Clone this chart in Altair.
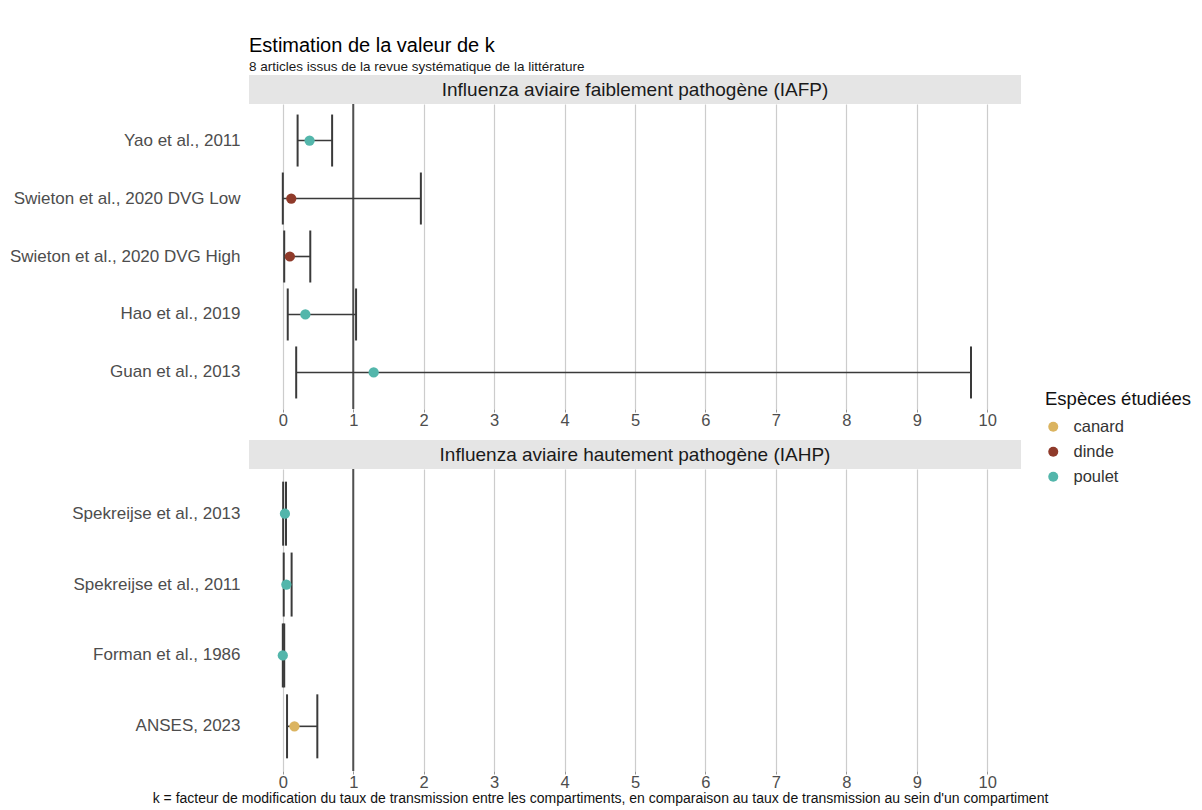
import altair as alt
import pandas as pd

# ---------------- data ----------------
etudes_iafp = ["Yao et al., 2011", "Swieton et al., 2020 DVG Low",
               "Swieton et al., 2020 DVG High", "Hao et al., 2019", "Guan et al., 2013"]
k_iafp = [0.38, 0.12, 0.10, 0.32, 1.29]
bas_iafp = [0.21, 0.00, 0.02, 0.07, 0.19]
haut_iafp = [0.70, 1.96, 0.39, 1.04, 9.77]
espece_iafp = ["poulet", "dinde", "dinde", "poulet", "poulet"]

etudes_iahp = ["Spekreijse et al., 2013", "Spekreijse et al., 2011",
               "Forman et al., 1986", "ANSES, 2023"]
k_iahp = [0.03, 0.05, 0.00, 0.165]
bas_iahp = [0.005, 0.013, 0.00, 0.06]
haut_iahp = [0.045, 0.125, 0.02, 0.49]
espece_iahp = ["poulet", "poulet", "poulet", "canard"]

panneaux = ["Influenza aviaire faiblement pathogène (IAFP)",
            "Influenza aviaire hautement pathogène (IAHP)"]
especes = ["canard", "dinde", "poulet"]
couleurs = ["#DBB460", "#8F3A2A", "#53B6AB"]
seuil_k = [1]
graduations = list(range(0, 11))

titre = "Estimation de la valeur de k"
sous_titre = "8 articles issus de la revue systématique de la littérature"
legende_titre = "Espèces étudiées"
legende_x = ("k = facteur de modification du taux de transmission entre les compartiments, "
             "en comparaison au taux de transmission au sein d'un compartiment")

FONT = "Liberation Sans"
W = 772
XDOM = [-0.48, 10.48]
ERR = "#3a3a3a"


def panel(etudes, k, bas, haut, esp, strip_title, h, cap, legend, x_title, title=None):
    df = pd.DataFrame({"etude": etudes, "k": k, "bas": bas, "haut": haut, "espece": esp})
    xsc = alt.Scale(domain=XDOM, nice=False, zero=False)
    xaxis = alt.Axis(values=graduations, grid=True, gridColor="#cccccc", gridWidth=1.2,
                     ticks=True, tickColor="#999999", tickSize=3, domain=False,
                     labelFontSize=16.5, labelColor="#4d4d4d", labelPadding=0,
                     labelFont=FONT, format="d",
                     titleFont=FONT, titleFontSize=14, titleFontWeight="normal",
                     titleColor="#111111", titleX=351, titlePadding=1)

    def X(field):
        return alt.X(field, type="quantitative", scale=xsc, axis=xaxis, title=x_title)

    yenc = alt.Y("etude:N", sort=etudes, title=None,
                 scale=alt.Scale(type="band", paddingInner=0, paddingOuter=0.13),
                 axis=alt.Axis(ticks=False, domain=False, grid=False, labelFontSize=17,
                               labelColor="#4d4d4d", labelFont=FONT, labelPadding=9,
                               labelLimit=400, minExtent=236, maxExtent=236))
    base = alt.Chart(df)
    strip_df = pd.DataFrame({"titre": [strip_title]})
    strip = alt.Chart(strip_df).mark_rect(color="#e5e5e5").encode(
        x=alt.value(0), x2=alt.value(W), y=alt.value(-29), y2=alt.value(0))
    strip_txt = alt.Chart(strip_df).mark_text(
        fontSize=19, color="#1a1a1a", font=FONT, align="center", baseline="middle").encode(
        x=alt.value(W / 2), y=alt.value(-14.5), text="titre:N")
    vline = alt.Chart(pd.DataFrame({"v": seuil_k})).mark_rule(
        color="#505050", strokeWidth=2).encode(x=X("v"))
    bars = base.mark_rule(color=ERR, strokeWidth=1.6).encode(
        x=X("bas"), x2="haut:Q", y=yenc)
    cap_lo = base.mark_tick(color=ERR, thickness=2, size=cap, opacity=1).encode(x=X("bas"), y=yenc)
    cap_hi = base.mark_tick(color=ERR, thickness=2, size=cap, opacity=1).encode(x=X("haut"), y=yenc)
    pts = base.mark_circle(size=105, opacity=1).encode(
        x=X("k"), y=yenc,
        color=alt.Color("espece:N", scale=alt.Scale(domain=especes, range=couleurs),
                        legend=legend))
    props = dict(width=W, height=h)
    if title is not None:
        props["title"] = title
    return alt.layer(strip, strip_txt, vline, bars, cap_lo, cap_hi, pts).properties(**props)


leg = alt.Legend(orient="none", legendX=796, legendY=286, title=legende_titre,
                 titleFontSize=18.5, titleFont=FONT, titleFontWeight="normal",
                 titleColor="#111111", labelFontSize=16.5, labelFont=FONT,
                 labelColor="#333333", symbolType="circle", symbolSize=100,
                 symbolStrokeWidth=0, rowPadding=8, titlePadding=10, labelOffset=12)

p1 = panel(etudes_iafp, k_iafp, bas_iafp, haut_iafp, espece_iafp, panneaux[0], 305, 52,
           leg, None,
           title=alt.TitleParams(text=titre, subtitle=sous_titre, anchor="start",
                                 frame="group", fontSize=20, subtitleFontSize=13.5,
                                 font=FONT, subtitleFont=FONT, fontWeight="normal",
                                 color="#000000", subtitleColor="#1a1a1a",
                                 subtitlePadding=4, offset=2))
p2 = panel(etudes_iahp, k_iahp, bas_iahp, haut_iahp, espece_iahp, panneaux[1], 302, 64,
           None, legende_x)

chart = alt.vconcat(p1, p2, spacing=60, bounds="flush").resolve_scale(
    color="independent").properties(
    padding={"left": 1, "top": 27, "right": 0, "bottom": 0},
    background="white",
).configure(font=FONT, view=alt.ViewConfig(stroke=None))

chart.save("out.html", embed_options={"renderer": "svg", "actions": False})
